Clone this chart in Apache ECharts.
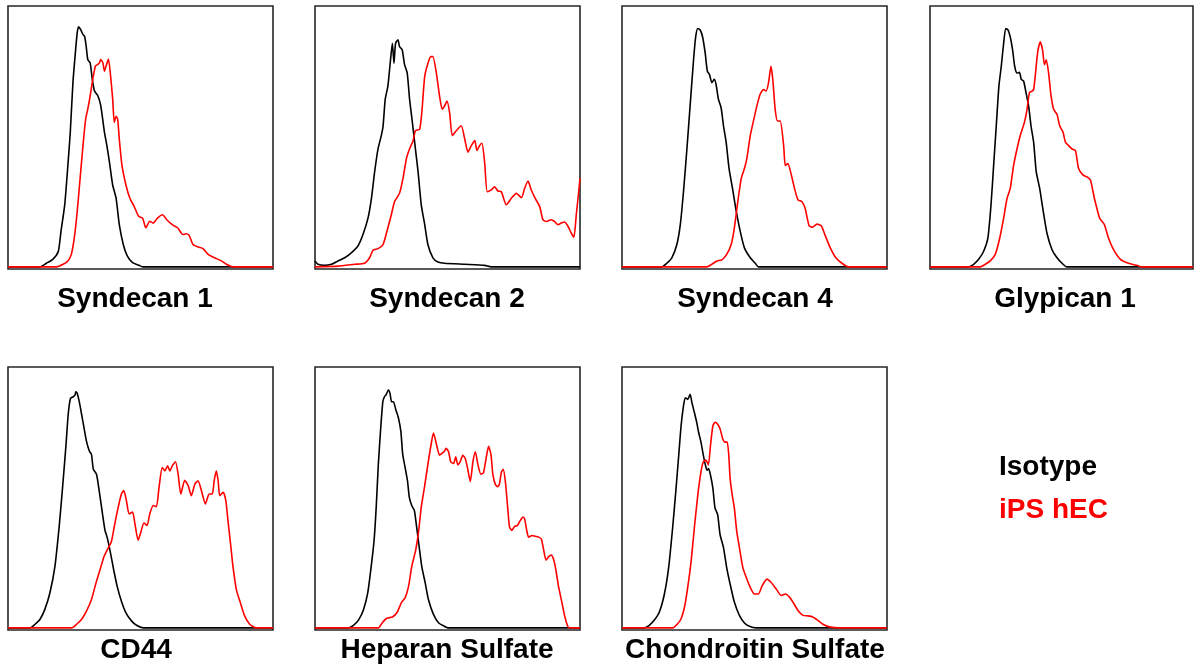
<!DOCTYPE html>
<html>
<head>
<meta charset="utf-8">
<title>Proteoglycan expression</title>
<script src="https://cdn.jsdelivr.net/npm/echarts@6/dist/echarts.min.js"></script>
<style>
  html, body { margin: 0; padding: 0; background: #fff; }
  #chart { width: 1198px; height: 666px; }
</style>
</head>
<body>
<div id="chart"></div>
<script>
// Flow cytometry histograms: [fluorescence (% of axis), normalised count (% of max)]
const panelTitles = ['Syndecan 1', 'Syndecan 2', 'Syndecan 4', 'Glypican 1', 'CD44', 'Heparan Sulfate', 'Chondroitin Sulfate'];
const seriesNames = ['Isotype', 'iPS hEC'];

const syn1Iso = [[0,0],[12,0],[14.5,1.4],[17,3],[19,6],[20,13.7],[21.4,23.8],[22.6,39],[23.5,51.6],[24.5,70.6],[25.5,83],[26.1,89.6],[26.6,92],[27.4,91],[28.3,89],[28.9,88.4],[29.5,84.6],[30.1,79.5],[31,78.2],[31.8,72],[32.6,67.5],[33.9,65.6],[35,61.8],[36.4,51.6],[37.3,46.6],[38.3,40],[39.5,31.4],[40.8,26.3],[42,16.2],[43.5,8.6],[45,4.2],[47,1.6],[49.5,0.6],[50.8,0],[100,0]];
const syn1Hec = [[0,0],[18.3,0],[20.8,1],[22.6,2.3],[23.9,4.8],[25,11],[26,20],[27,31.4],[28.3,46.6],[29.3,56.6],[30.1,60.5],[31,65.5],[32,72],[33,77],[33.9,77.6],[34.5,78.2],[35,79.5],[35.8,78.2],[36.4,75],[37,77],[37.9,79.7],[38.6,74.4],[39.5,64.3],[40.1,55.4],[40.8,57.7],[41.4,56.6],[42,49],[43,39],[44.5,31.4],[46,26.3],[47.6,23.2],[49.3,19.4],[50.8,18.7],[52,15],[53.5,17.5],[54.8,16.8],[56.4,18.7],[58.3,20],[60,18],[62,16.2],[64,15],[66,12.4],[67.3,12.7],[68.4,12],[69.8,8.6],[71.8,7.6],[73.6,7],[75.5,4.8],[78,3.5],[80.5,2.3],[82.4,1],[85,0],[100,0]];

const syn2Iso = [[0,2.3],[1.1,1],[3.6,0.6],[6.2,1],[8.7,2.3],[11.2,3.5],[13.7,5.4],[16.2,8],[18.1,12.4],[20,18.7],[21.3,26.3],[22.5,36.4],[23.8,45.3],[25,50.2],[25.7,54.1],[26.5,64.3],[27.5,69.3],[28.5,79.4],[29.2,85.7],[29.8,78.1],[30.4,85.7],[31.3,87],[31.9,84.5],[32.9,83.2],[33.8,77.5],[34.8,74.3],[35.7,64.2],[36.6,56.6],[37.6,47.8],[38.9,36.4],[40.1,23.8],[41.4,16.2],[42.6,8.6],[44.5,3.5],[46.4,1.9],[48.9,1.4],[56.5,1],[64,0.6],[66.5,0],[100,0]];
const syn2Hec = [[0,0],[8.7,0.3],[15,1],[18.7,1.4],[20.6,3.5],[21.9,6.4],[23.8,7],[25.7,8.6],[27.5,15],[28.8,20],[30,25],[31.9,28.2],[33.2,33.9],[34.5,41.5],[35.7,45.3],[37,48.3],[37.9,52.2],[39.5,52.8],[40.4,60.4],[41.4,73],[42.6,78],[43.7,80.6],[44.5,80.6],[45.8,74.3],[47,65.5],[48,60.4],[48.9,61.7],[49.8,63.6],[50.8,59.1],[51.8,50.3],[53.3,52.2],[55.2,54.1],[56.5,49],[57.7,44],[59,46.5],[60.3,48.4],[61.1,44.6],[62.1,46.5],[63,47.4],[64,40.2],[65,28.8],[66.5,29.5],[67.8,30.7],[69,29.1],[70.3,28.8],[72.2,23.8],[74.1,26.3],[76,28.2],[77.9,26.5],[79.1,30.1],[80.4,32.9],[81.6,29.5],[83.1,26.3],[84.8,23.1],[86,18.1],[87.3,17.4],[89.2,18.1],[90.4,17.4],[91.7,16.2],[92.9,16.8],[94.2,17.2],[95.5,15.5],[96.7,13],[97.7,11.4],[98.6,20],[99.5,28.8],[100,33.9]];

const syn4Iso = [[0,0],[15,0],[16.9,1.4],[18.8,3.5],[20.7,8.6],[22,16.2],[23.2,28.8],[24.5,45.3],[25.7,61.7],[27,79.4],[27.8,88.2],[28.6,91.4],[29.5,90.8],[30.4,88.2],[31.4,81.9],[32.2,75],[33,73.8],[33.9,70.6],[34.8,71.9],[35.5,69.9],[36.4,64.2],[37.4,61],[38.3,54.1],[39.3,47.8],[40.4,37.7],[41.7,30.1],[42.9,22.5],[44.6,13.7],[46.2,7.3],[48.4,3.5],[50.3,1.4],[51.5,0],[100,0]];
const syn4Hec = [[0,0],[32,0],[33.9,1],[35.8,2.3],[37.7,2.7],[39.5,4.8],[41.2,8.6],[42.4,15],[43.7,25],[45,33.9],[46.2,37.7],[47.1,41.5],[48.4,50.3],[49.6,55.9],[50.9,61.7],[52.1,66.1],[53.4,68],[54.4,67.4],[55.3,70.6],[56.2,76.9],[56.9,71.9],[57.8,60.4],[58.7,55.9],[59.7,55.9],[61,46.5],[61.6,38.9],[62.6,39.6],[63.9,35.2],[65.1,30.1],[66.4,25.7],[67.9,25],[69.1,22.5],[70.6,15.8],[71.9,15.2],[73.6,16.4],[75.2,15.8],[76.7,12],[78.6,7.3],[80.7,3.5],[83,1.4],[85.5,0],[100,0]];

const gpc1Iso = [[0,0],[14.7,0],[16.6,1],[18.5,2.9],[20.4,6],[22,11],[23.2,23.8],[24.2,39],[25.2,54.1],[26.2,69.3],[27.1,76.9],[28,85.7],[28.8,91.4],[29.7,90.8],[30.5,88.2],[31.4,83.2],[32.2,76.9],[33.1,74.3],[34,74.6],[34.7,71.9],[35.6,71.2],[36.5,66.8],[37.5,61.7],[38.4,54.1],[39.4,47.8],[40.4,36.4],[41.7,30.1],[43,21.7],[44.5,12.8],[46.4,6.6],[48.3,3.5],[50.2,1.4],[52,0],[100,0]];
const gpc1Hec = [[0,0],[19.1,0],[21,1],[22.9,2.3],[24.8,4.8],[26.5,11],[28,18.7],[29.3,26.3],[30.5,30],[31.8,39],[33.1,45.3],[34.3,50.3],[35.9,55.4],[36.9,60.4],[37.8,66.8],[38.8,67.4],[39.4,68],[40,73],[40.9,81.9],[41.9,86.3],[42.8,83.2],[43.5,77.5],[44.2,79.4],[45.1,74.3],[46,65.8],[47,60.4],[48.3,58.5],[49.3,54.1],[50.6,51.6],[51.5,47.8],[52.7,46.5],[54,45.2],[55.3,44.6],[56.5,37.7],[58.2,35.2],[59.7,34.5],[61,33.3],[62.5,26.3],[64.5,18.7],[66.3,16.2],[67.9,11],[69.8,6.6],[72.4,2.9],[75.5,1.4],[78.7,0.6],[80.6,0],[100,0]];

const cd44Iso = [[0,0],[8.3,0],[10.2,1.4],[12.1,3.3],[13.9,7.1],[15.8,13.4],[17.7,23.5],[19.3,38.7],[20.6,53.9],[21.9,70.3],[22.7,81.7],[23.6,88],[24.6,88.6],[25.3,89.3],[25.6,90.5],[26.1,89.9],[26.9,86.7],[27.8,81.7],[28.7,76.6],[29.6,71.6],[30.7,67.8],[31.5,66.5],[32.2,60.8],[33.4,58.9],[34.4,52.6],[35.3,46.3],[36.6,37.4],[37.4,34.8],[38.7,28.6],[39.9,22.2],[41.2,15.9],[42.8,10.2],[44.5,5.8],[46.6,2.7],[48.5,1],[51,0],[100,0]];
const cd44Hec = [[0,0],[24,0],[25.9,1.4],[27.8,3.3],[29.6,6.4],[31.5,10.9],[33.2,17.2],[34.7,22.2],[36.2,27.3],[37.4,29.8],[39,33],[40.3,39.9],[41.6,46.3],[42.8,51.3],[43.7,52.6],[44.7,48.7],[45.7,43.7],[47,44.4],[47.9,39.9],[49.1,33.6],[50,36.2],[51.3,40.2],[52.5,39.3],[53.5,43.7],[54.8,46.9],[56,46.5],[57,53.9],[58.2,61.5],[59.2,60.2],[60.2,62.1],[61.1,60.2],[62,62.1],[63.2,63.7],[64.2,58.9],[65.2,51.3],[66.7,56.6],[68,54.5],[69.2,50.7],[70.5,55.1],[71.7,56.4],[73,52.6],[74.5,47.5],[75.9,51.3],[77.1,51.3],[77.8,56.4],[78.6,60.2],[79.3,56.4],[79.9,50.7],[81.2,52],[82.2,48.8],[83,41.2],[84.1,31.1],[84.9,23.5],[86.2,14.6],[87.7,9.6],[89.3,4.6],[91.2,1.4],[93.7,0],[100,0]];

const hsIso = [[0,0],[12.6,0],[14.5,1],[16.4,3],[18.3,7],[19.9,13.4],[21.2,23.5],[22.3,33.6],[23.1,46.3],[23.9,62.7],[24.8,76.6],[25.6,86.7],[26.2,88.6],[26.8,89.3],[27.7,91.2],[28.3,89.9],[28.9,86.7],[29.6,86.7],[30.5,83.6],[31.5,80.4],[32.4,75.3],[33.1,66.5],[34,61.5],[34.9,56.4],[35.6,50],[36.5,46.9],[37.5,45],[38.2,39.9],[39,33.6],[40.3,23.5],[41.6,17.2],[42.8,10.9],[44.7,5.2],[46.6,2],[48.5,0.8],[50.4,0],[100,0]];
const hsHec = [[0,0],[23.9,0],[25.4,2],[27.1,3.7],[29.2,4.2],[30.9,5.8],[32.7,9.9],[34,11.5],[35.3,15.9],[36.5,23.5],[38,29.8],[39,36.2],[40.1,46.3],[41.3,53.9],[42.6,62.7],[43.8,70.3],[44.7,74.7],[45.3,72.7],[46.2,68.8],[47,66.2],[47.9,66.9],[48.7,67.5],[49.5,68.8],[50.4,67.5],[51.2,63.7],[52.3,63],[53.1,65.6],[53.9,62.5],[54.8,63.7],[55.8,66.2],[56.7,64.9],[57.6,61.1],[58.6,56.1],[59.6,63.7],[60.5,67.5],[61.5,62.5],[62.6,58.9],[63.6,59.5],[64.6,65.2],[65.5,69.6],[66.4,66.5],[67.1,58.9],[68,55.1],[68.9,54.1],[69.6,55.1],[70.3,59.5],[71,60.8],[71.8,56.4],[72.7,46.3],[73.4,38.7],[74.3,37.4],[75.3,38.9],[76.4,39.3],[77.5,41.2],[78.5,42.5],[79.1,41.8],[79.9,37.4],[80.6,34.8],[81.9,35.4],[83.1,35.1],[84.4,34.8],[85.4,34.1],[86.3,29.8],[87.2,26],[88.2,27.3],[89.2,27.9],[90.1,26],[90.9,22.2],[91.9,15.9],[93.2,9.6],[94.2,4.6],[95.3,0.8],[96,0],[100,0]];

const csIso = [[0,0],[8.4,0],[10.3,1],[12.2,3],[14.1,6.1],[16,13],[17.6,23.1],[19.1,38.3],[20.4,53.5],[21.4,66.1],[22.3,77.5],[23.2,85.1],[23.9,88.2],[24.8,87.6],[25.7,89.5],[26.4,86.3],[27.3,82.6],[28.2,78.8],[28.9,75],[29.8,71.2],[30.7,66.1],[31.5,62.3],[32.1,60.4],[32.7,61.1],[33.4,58.5],[34.3,53.5],[35.1,45.9],[36.1,43.4],[37,35.8],[38.3,30.8],[39.5,23.1],[40.8,16.8],[42.4,9.9],[44.3,4.8],[46.2,1.9],[48.1,0.6],[50.6,0],[100,0]];
const csHec = [[0,0],[19.1,0],[21,1.6],[22.3,3.5],[23.6,8],[24.8,15.5],[26.1,25.7],[27.3,38.3],[28.6,50.9],[29.8,59.8],[30.7,63.7],[31.7,64.3],[32.6,62.5],[33.4,70],[34.3,77.5],[35.1,78.8],[36.1,78.1],[37,76.3],[38,72.5],[38.9,71.2],[39.7,71.2],[40.3,66.1],[40.8,57.3],[41.6,50.9],[42.4,45.9],[43.3,37],[44.3,30.8],[45.6,23.1],[46.9,19.3],[48.4,15.5],[50,13],[51.5,13],[52.9,16.2],[54.7,18.7],[56.3,17.4],[58.2,14.9],[60.1,12.4],[61.7,13],[63.2,11.8],[64.5,9.9],[66.4,6.7],[68.3,4.8],[70.2,4.6],[72,4.2],[73.9,2.9],[75.8,1.4],[78.3,0.4],[82.1,0],[100,0]];

const isotypeSets = [syn1Iso, syn2Iso, syn4Iso, gpc1Iso, cd44Iso, hsIso, csIso];
const hecSets = [syn1Hec, syn2Hec, syn4Hec, gpc1Hec, cd44Hec, hsHec, csHec];

// Panel placement (pixels)
const panelLeft = [8, 315, 622, 930, 8, 315, 622];
const panelTop = [6, 6, 6, 6, 367, 367, 367];
const panelWidth = [265, 265, 265, 263, 265, 265, 265];
const panelHeight = 263;
const titleCenter = [135, 447, 755, 1065, 136, 447, 755];
const titleTop = [285, 285, 285, 285, 636, 636, 636];

const FONT = '"Liberation Sans", Arial, Helvetica, sans-serif';
const ISO_COLOR = '#000000';
const HEC_COLOR = '#ff0000';

const grids = [], xAxes = [], yAxes = [], series = [], titles = [];
panelTitles.forEach((t, i) => {
  grids.push({
    left: panelLeft[i], top: panelTop[i], width: panelWidth[i], height: panelHeight,
    show: true, borderColor: '#262626', borderWidth: 1.6, backgroundColor: '#fff'
  });
  xAxes.push({
    type: 'value', gridIndex: i, min: 0, max: 100,
    axisLine: { show: false }, axisTick: { show: false }, axisLabel: { show: false }, splitLine: { show: false }
  });
  yAxes.push({
    type: 'value', gridIndex: i, min: -0.8, max: 100,
    axisLine: { show: false }, axisTick: { show: false }, axisLabel: { show: false }, splitLine: { show: false }
  });
  series.push({
    type: 'line', name: seriesNames[0], xAxisIndex: i, yAxisIndex: i, data: isotypeSets[i],
    showSymbol: false, smooth: 0.2, z: 2,
    lineStyle: { color: ISO_COLOR, width: 1.6 }, itemStyle: { color: ISO_COLOR }
  });
  series.push({
    type: 'line', name: seriesNames[1], xAxisIndex: i, yAxisIndex: i, data: hecSets[i],
    showSymbol: false, smooth: 0.2, z: 3,
    lineStyle: { color: HEC_COLOR, width: 1.6 }, itemStyle: { color: HEC_COLOR }
  });
  titles.push({
    text: t, left: titleCenter[i], top: titleTop[i], textAlign: 'center', padding: 0,
    textStyle: { fontFamily: FONT, fontSize: 28, fontWeight: 'bold', color: '#000' }
  });
});

const chart = echarts.init(document.getElementById('chart'), null, { renderer: 'canvas' });
chart.setOption({
  animation: false,
  backgroundColor: '#fff',
  title: titles,
  legend: {
    left: 994, top: 453, orient: 'vertical', padding: 0, itemGap: 15,
    itemWidth: 0, itemHeight: 28, icon: 'none', selectedMode: false,
    textStyle: { fontFamily: FONT, fontSize: 28, fontWeight: 'bold' },
    data: [
      { name: seriesNames[0], textStyle: { color: ISO_COLOR } },
      { name: seriesNames[1], textStyle: { color: HEC_COLOR } }
    ]
  },
  grid: grids,
  xAxis: xAxes,
  yAxis: yAxes,
  series: series
});
</script>
</body>
</html>
